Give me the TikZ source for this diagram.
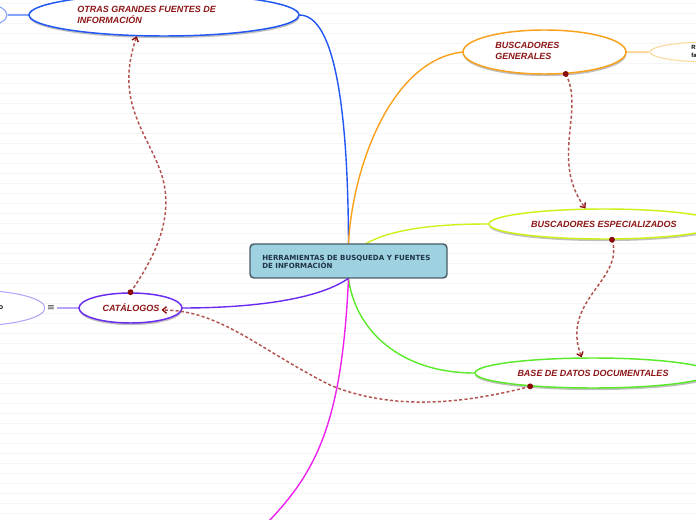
\documentclass[tikz,border=0pt]{standalone}
\usepackage{fontspec}
\setmainfont{Liberation Sans}
\newfontfamily\djv{DejaVu Sans}
\usetikzlibrary{shapes.geometric,arrows.meta,shadows,calc}
\definecolor{cBlue}{HTML}{2158F5}
\definecolor{cBlueL}{HTML}{86A3FF}
\definecolor{cOrange}{HTML}{F9A11B}
\definecolor{cOrangeL}{HTML}{FCD89A}
\definecolor{cLime}{HTML}{CCF21C}
\definecolor{cGreen}{HTML}{5AEA2A}
\definecolor{cMag}{HTML}{EE22EE}
\definecolor{cPurp}{HTML}{6A2AF0}
\definecolor{cPurpL}{HTML}{B7A3F7}
\definecolor{cLabel}{HTML}{8E1616}
\definecolor{cRel}{HTML}{B3534F}
\definecolor{cDot}{HTML}{8A0A0A}
\definecolor{cRootFill}{HTML}{9FD2E0}
\definecolor{cRootDraw}{HTML}{4A5C68}
\definecolor{cRootText}{HTML}{1F3447}
\definecolor{cBgLine}{HTML}{F5F5F5}
\tikzset{
  topic/.style={ellipse, draw, fill=white, line width=1.1pt, inner sep=0pt,
    drop shadow={shadow xshift=0.3pt, shadow yshift=-1.6pt, fill=black!55, opacity=0.45}},
  anchorshape/.style={ellipse, inner sep=0pt},
  faint/.style={ellipse, draw, fill=white, line width=0.8pt, inner sep=0pt},
  lbl/.style={font=\bfseries\itshape\fontsize{6.75pt}{8.25pt}\selectfont, text=cLabel, align=left, inner sep=0pt},
  tiny/.style={font=\bfseries\fontsize{4.5pt}{6pt}\selectfont, text=black, align=left, inner sep=0pt},
  branch/.style={line width=1.05pt},
  rel/.style={draw=cRel, line width=1.1pt, dash pattern=on 2.3pt off 1.7pt,
    -{Straight Barb[length=3pt,width=5pt,line width=1pt,color=cDot]}},
  reldot/.style={fill=cDot},
  rootbox/.style={rectangle, rounded corners=3pt, draw=cRootDraw, fill=cRootFill, line width=1.1pt,
    minimum width=147.75pt, minimum height=25.5pt, inner sep=0pt},
  roottext/.style={font=\djv\bfseries\fontsize{5.3pt}{5.9pt}\selectfont, text=cRootText, align=left, inner sep=0pt},
  bgline/.style={draw=cBgLine, line width=0.75pt}
}
\begin{document}
\begin{tikzpicture}[x=0.75pt,y=-0.75pt]
\useasboundingbox (0,0) rectangle (696,520);
\clip (0,0) rectangle (696,520);
\fill[white] (0,0) rectangle (696,520);
\foreach \yy in {3.5,13.5,...,520} \draw[bgline] (0,\yy) -- (696,\yy);

% invisible outlines used as branch end points
\node[rectangle, minimum width=147.75pt, minimum height=25.5pt, inner sep=0pt] (root) at (348.5,261) {};
\node[anchorshape, minimum width=202.5pt, minimum height=31.5pt] (otrasP) at (164,15) {};
\node[anchorshape, minimum width=122.25pt, minimum height=33pt] (genP) at (544.5,52) {};
\node[anchorshape, minimum width=172.5pt, minimum height=22.5pt] (specP) at (604,224) {};
\node[anchorshape, minimum width=177pt, minimum height=22.5pt] (baseP) at (593,373) {};
\node[anchorshape, minimum width=77.25pt, minimum height=22.5pt] (catP) at (130.5,308) {};

% branches
\draw[branch, cBlue] (root.north) .. controls (348,110) and (335,15) .. (otrasP.east);
\draw[branch, cOrange] (root.north) .. controls (352,170) and (390,60) .. (genP.west);
\draw[branch, cLime] ($(root.north)+(14,2)$) .. controls (390,228) and (440,224) .. (specP.west);
\draw[branch, cGreen] (root.south) .. controls (355,330) and (400,373) .. (baseP.west);
\draw[branch, cMag] (root.south) .. controls (342,420) and (318,470) .. (268,522);
\draw[branch, cPurp] (root.south) .. controls (315,302) and (240,308) .. (catP.east);

% partial neighbours
\node[faint, draw=cBlueL, minimum width=100.5pt, minimum height=27pt] (otrasL) at (-60,15) {};
\draw[cBlueL, line width=0.8pt] (otrasL.east) -- (otrasP.west);
\node[faint, draw=cOrangeL, minimum width=90pt, minimum height=15pt] (genR) at (710,52) {};
\draw[cOrangeL, line width=0.8pt] (genP.east) -- (genR.west);
\node[tiny, anchor=west] (genRtext) at (691,51) {R\\fa};
\node[faint, draw=cPurpL, minimum width=112.5pt, minimum height=27pt] (catL) at (-30,308) {};
\draw[cPurpL, line width=0.8pt] (catL.east) -- (catP.west);
\node[fill=white, inner sep=1.2pt, font=\djv\fontsize{7pt}{7pt}\selectfont, text=black!75] (fold) at (51,308) {≡};
\node[font=\bfseries\fontsize{5.25pt}{6pt}\selectfont, anchor=east, inner sep=0pt] (catLtext) at (3.5,308) {o};

% root
\node[rootbox] (rootbox) at (348.5,261) {};
\node[roottext, anchor=west] (roottxt) at (262,261.5) {HERRAMIENTAS DE BUSQUEDA Y FUENTES\\DE INFORMACIÓN};

% topics
\node[topic, draw=cBlue, minimum width=202.5pt, minimum height=31.5pt] (otras) at (164,15) {};
\node[lbl, anchor=west] (otrastxt) at (77,14.5) {OTRAS GRANDES FUENTES DE\\INFORMACIÓN};
\node[topic, draw=cOrange, minimum width=122.25pt, minimum height=33pt] (gen) at (544.5,52) {};
\node[lbl, anchor=west] (gentxt) at (495,50.5) {BUSCADORES\\GENERALES};
\node[topic, draw=cLime, minimum width=172.5pt, minimum height=22.5pt] (spec) at (604,224) {};
\node[lbl] (spectxt) at (604,224) {BUSCADORES ESPECIALIZADOS};
\node[topic, draw=cGreen, minimum width=177pt, minimum height=22.5pt] (base) at (593,373) {};
\node[lbl] (basetxt) at (593,373) {BASE DE DATOS DOCUMENTALES};
\node[topic, draw=cPurp, minimum width=77.25pt, minimum height=22.5pt] (cat) at (130.5,308) {};
\node[lbl] (cattxt) at (131,308) {CATÁLOGOS};

% relationships
\draw[rel] (cat.north) .. controls (160,250) and (175,210) .. (160,170)
  .. controls (145,130) and (115,100) .. (otras.218);
\draw[rel] (gen.-46) .. controls (585,110) and (550,160) .. (spec.140);
\draw[rel] (spec.-63) .. controls (625,280) and (560,300) .. (base.126);
\draw[rel] (base.192) .. controls (460,405) and (390,410) .. (330,385)
  .. controls (260,350) and (220,310) .. ($(cat.center)+(31,2)$);
\fill[reldot] (cat.north) circle (2.2pt);
\fill[reldot] (gen.-46) circle (2.2pt);
\fill[reldot] (spec.-63) circle (2.2pt);
\fill[reldot] (base.192) circle (2.2pt);
\end{tikzpicture}
\end{document}
